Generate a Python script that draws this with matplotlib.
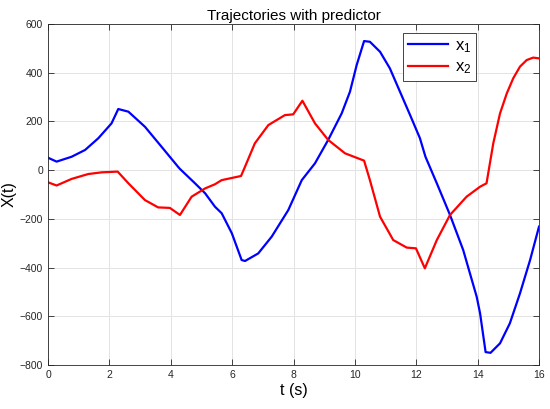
import numpy as np
import matplotlib
matplotlib.use('Agg')
import matplotlib.pyplot as plt

plt.rcParams['font.family'] = ['Liberation Sans', 'DejaVu Sans']
plt.rcParams['mathtext.fontset'] = 'custom'
plt.rcParams['mathtext.rm'] = 'Liberation Sans'

# values
t_x1 = [0, 0.28, 0.77, 1.21, 1.64, 2.07, 2.29, 2.62, 3.16, 3.70, 4.25, 4.30, 4.79, 5.12, 5.44,
        5.66, 5.99, 6.31, 6.42, 6.85, 7.29, 7.83, 8.27, 8.70, 9.13, 9.57, 9.84, 10.06,
        10.30, 10.49, 10.82, 11.14, 11.47, 11.80, 12.12, 12.30, 12.67, 13.10, 13.53,
        13.97, 14.08, 14.26, 14.42, 14.73, 15.05, 15.38, 15.71, 16.0]
x1 = [51, 35, 55, 83, 131, 192, 251, 240, 178, 96, 12, 5, -54, -95, -150,
      -177, -259, -369, -373, -342, -273, -164, -41, 28, 124, 233, 322, 432,
      530, 527, 486, 418, 322, 226, 131, 55, -54, -184, -328,
      -520, -588, -747, -750, -711, -629, -506, -369, -232]

t_x2 = [0, 0.28, 0.77, 1.31, 1.75, 2.27, 2.62, 3.16, 3.59, 3.97, 4.30, 4.68, 5.12, 5.44,
        5.66, 6.29, 6.42, 6.74, 7.18, 7.72, 7.99, 8.29, 8.70, 9.13, 9.68, 10.30,
        10.49, 10.82, 11.25, 11.69, 11.99, 12.28, 12.67, 13.10, 13.64, 14.08, 14.29,
        14.51, 14.73, 14.95, 15.16, 15.38, 15.60, 15.81, 16.0]
x2 = [-50, -63, -36, -16, -9, -6, -54, -123, -153, -155, -184, -109, -75, -58,
      -41, -24, 14, 110, 185, 226, 229, 285, 192, 124, 69, 39,
      -41, -191, -287, -318, -321, -403, -287, -184, -109, -68, -54,
      110, 233, 315, 377, 425, 452, 462, 459]

xticks = np.arange(0, 17, 2)
yticks = np.arange(-800, 601, 200)

fig = plt.figure(figsize=(5.5, 4.09), dpi=100)
ax = fig.add_axes([48/550, 1 - 365/409, 491/550, 341/409])

ax.plot(t_x1, x1, color='#0000ff', lw=1.6, label=r'$\mathregular{x_1}$')
ax.plot(t_x2, x2, color='#ff0000', lw=1.6, label=r'$\mathregular{x_2}$')

ax.set_xlim(0, 16)
ax.set_ylim(-800, 600)
ax.set_xticks(xticks)
ax.set_yticks(yticks)
ax.grid(True, color='#e3e3e3', lw=0.7)
ax.set_axisbelow(True)
ax.tick_params(direction='in', top=True, right=True, labelsize=7.5,
               colors='#262626', length=4, width=0.6)
for s in ax.spines.values():
    s.set_color('#262626')
    s.set_linewidth(0.6)

ax.set_title('Trajectories with predictor', fontsize=11, pad=3)
ax.set_xlabel('t (s)', fontsize=11.5, labelpad=2)
ax.set_ylabel('X(t)', fontsize=11.5, labelpad=2)

leg = ax.legend(loc='upper right', bbox_to_anchor=(0.872, 0.974), fontsize=12,
                fancybox=False, edgecolor='#262626', framealpha=1,
                handlelength=2.4, borderpad=0.3, labelspacing=0.3,
                handletextpad=0.4, borderaxespad=0)
leg.get_frame().set_linewidth(0.6)

fig.savefig('out.png', dpi=100)
